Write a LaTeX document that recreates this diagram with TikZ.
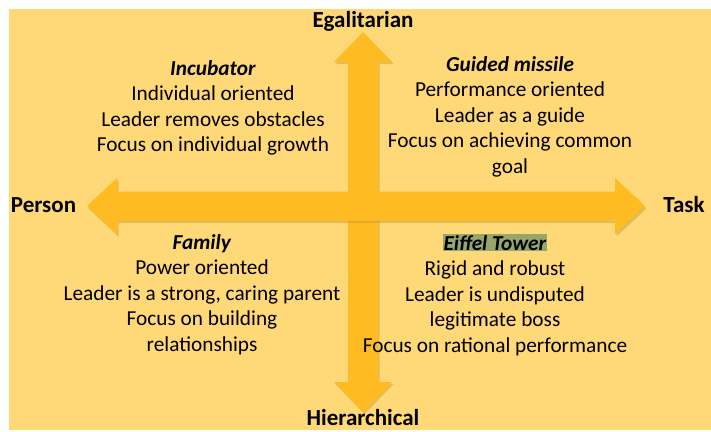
\documentclass[tikz,border=0pt]{standalone}
\usepackage{fontspec}
\setmainfont{Carlito}
\usepackage{xcolor}
\usepackage{tikz}
\usetikzlibrary{positioning}

\definecolor{paper}{HTML}{FFD878}
\definecolor{axisgold}{HTML}{FFBC22}
\definecolor{axisshade}{HTML}{C8962A}
\definecolor{eiffelgreen}{HTML}{95A86A}

\begin{document}
\begin{tikzpicture}[
	x=1pt, y=-1pt,
	font=\fontsize{21.3}{25.5}\selectfont
]
\tikzset{
    axisarrow/.style = {fill=axisgold, draw=none},
		arrowshadow/.style = {fill=axisshade, opacity=0.45, draw=none},
		axislabel/.style = {inner sep=0pt, font=\fontsize{23}{25}\selectfont\bfseries},
		quadtext/.style = {align=center, anchor=north, inner sep=0pt}
}
\useasboundingbox (0,0) rectangle (711,431);
\fill[paper] (9,9) rectangle (711,430);

% vertical axis
\fill[arrowshadow,shift={(1.5,2)}] (363,32) -- (392,62) -- (378,62) -- (378,382) -- (392,382)
	-- (363,412) -- (334,382) -- (348,382) -- (348,62) -- (334,62) -- cycle;
\fill[axisarrow] (363,32) -- (392,62) -- (378,62) -- (378,382) -- (392,382)
	-- (363,412) -- (334,382) -- (348,382) -- (348,62) -- (334,62) -- cycle;
% horizontal axis, lies on top
\fill[arrowshadow,shift={(1.5,2.5)}] (87,206) -- (117,178) -- (117,191.5) -- (615,191.5) -- (615,178)
	-- (645,206) -- (615,234) -- (615,220.5) -- (117,220.5) -- (117,234) -- cycle;
\fill[axisarrow] (87,206) -- (117,178) -- (117,191.5) -- (615,191.5) -- (615,178)
	-- (645,206) -- (615,234) -- (615,220.5) -- (117,220.5) -- (117,234) -- cycle;

% axis ends
\node[axislabel] (egal) at (363,21) {Egalitarian};
\node[axislabel] (hier) at (363,418) {Hierarchical};
\node[axislabel] (person) at (43.5,205) {Person};
\node[axislabel] (task) at (684,205) {Task};

% the four quadrants
\node[quadtext] (incubator) at (213,60) {\textbf{\textit{Incubator}}\\
	Individual oriented\\Leader removes obstacles\\Focus on individual growth};
\node[quadtext] (missile) at (510,56) {\textbf{\textit{Guided missile}}\\
	Performance oriented\\Leader as a guide\\Focus on achieving common\\goal};
\node[quadtext] (family) at (202,234) {\textbf{\textit{Family}}\\
	Power oriented\\Leader is a strong, caring parent\\Focus on building\\relationships};
\node[quadtext] (eiffel) at (495,234) {{\setlength{\fboxsep}{1pt}\colorbox{eiffelgreen}{\textbf{\textit{Eiffel Tower}}}}\\
	Rigid and robust\\Leader is undisputed\\legitimate boss\\Focus on rational performance};
\end{tikzpicture}
\end{document}
